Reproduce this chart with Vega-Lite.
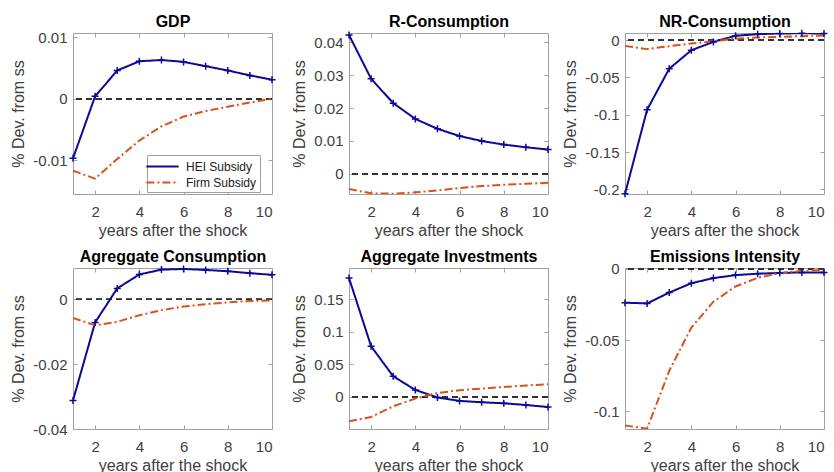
{
  "$schema": "https://vega.github.io/schema/vega-lite/v6.json",
  "padding": {"left": 10, "top": 13, "right": 5, "bottom": 0},
  "background": "white",
  "datasets": {
    "d": [
      {"p": "GDP", "s": "HEI Subsidy", "x": 1, "y": -0.0097},
      {"p": "GDP", "s": "HEI Subsidy", "x": 2, "y": 0.0004},
      {"p": "GDP", "s": "HEI Subsidy", "x": 3, "y": 0.0046},
      {"p": "GDP", "s": "HEI Subsidy", "x": 4, "y": 0.0061},
      {"p": "GDP", "s": "HEI Subsidy", "x": 5, "y": 0.0063},
      {"p": "GDP", "s": "HEI Subsidy", "x": 6, "y": 0.0060},
      {"p": "GDP", "s": "HEI Subsidy", "x": 7, "y": 0.0053},
      {"p": "GDP", "s": "HEI Subsidy", "x": 8, "y": 0.0046},
      {"p": "GDP", "s": "HEI Subsidy", "x": 9, "y": 0.0038},
      {"p": "GDP", "s": "HEI Subsidy", "x": 10, "y": 0.0031},
      {"p": "GDP", "s": "Firm Subsidy", "x": 1, "y": -0.0117},
      {"p": "GDP", "s": "Firm Subsidy", "x": 2, "y": -0.0130},
      {"p": "GDP", "s": "Firm Subsidy", "x": 3, "y": -0.0098},
      {"p": "GDP", "s": "Firm Subsidy", "x": 4, "y": -0.0068},
      {"p": "GDP", "s": "Firm Subsidy", "x": 5, "y": -0.0045},
      {"p": "GDP", "s": "Firm Subsidy", "x": 6, "y": -0.0029},
      {"p": "GDP", "s": "Firm Subsidy", "x": 7, "y": -0.0020},
      {"p": "GDP", "s": "Firm Subsidy", "x": 8, "y": -0.0013},
      {"p": "GDP", "s": "Firm Subsidy", "x": 9, "y": -0.0006},
      {"p": "GDP", "s": "Firm Subsidy", "x": 10, "y": 0.0000},

      {"p": "R", "s": "HEI Subsidy", "x": 1, "y": 0.0422},
      {"p": "R", "s": "HEI Subsidy", "x": 2, "y": 0.0289},
      {"p": "R", "s": "HEI Subsidy", "x": 3, "y": 0.0215},
      {"p": "R", "s": "HEI Subsidy", "x": 4, "y": 0.0167},
      {"p": "R", "s": "HEI Subsidy", "x": 5, "y": 0.0137},
      {"p": "R", "s": "HEI Subsidy", "x": 6, "y": 0.0115},
      {"p": "R", "s": "HEI Subsidy", "x": 7, "y": 0.0100},
      {"p": "R", "s": "HEI Subsidy", "x": 8, "y": 0.0089},
      {"p": "R", "s": "HEI Subsidy", "x": 9, "y": 0.0081},
      {"p": "R", "s": "HEI Subsidy", "x": 10, "y": 0.0074},
      {"p": "R", "s": "Firm Subsidy", "x": 1, "y": -0.0046},
      {"p": "R", "s": "Firm Subsidy", "x": 2, "y": -0.0059},
      {"p": "R", "s": "Firm Subsidy", "x": 3, "y": -0.0060},
      {"p": "R", "s": "Firm Subsidy", "x": 4, "y": -0.0056},
      {"p": "R", "s": "Firm Subsidy", "x": 5, "y": -0.0050},
      {"p": "R", "s": "Firm Subsidy", "x": 6, "y": -0.0043},
      {"p": "R", "s": "Firm Subsidy", "x": 7, "y": -0.0037},
      {"p": "R", "s": "Firm Subsidy", "x": 8, "y": -0.0033},
      {"p": "R", "s": "Firm Subsidy", "x": 9, "y": -0.0030},
      {"p": "R", "s": "Firm Subsidy", "x": 10, "y": -0.0027},

      {"p": "NR", "s": "HEI Subsidy", "x": 1, "y": -0.2060},
      {"p": "NR", "s": "HEI Subsidy", "x": 2, "y": -0.0932},
      {"p": "NR", "s": "HEI Subsidy", "x": 3, "y": -0.0383},
      {"p": "NR", "s": "HEI Subsidy", "x": 4, "y": -0.0135},
      {"p": "NR", "s": "HEI Subsidy", "x": 5, "y": -0.0023},
      {"p": "NR", "s": "HEI Subsidy", "x": 6, "y": 0.0059},
      {"p": "NR", "s": "HEI Subsidy", "x": 7, "y": 0.0080},
      {"p": "NR", "s": "HEI Subsidy", "x": 8, "y": 0.0090},
      {"p": "NR", "s": "HEI Subsidy", "x": 9, "y": 0.0092},
      {"p": "NR", "s": "HEI Subsidy", "x": 10, "y": 0.0090},
      {"p": "NR", "s": "Firm Subsidy", "x": 1, "y": -0.0077},
      {"p": "NR", "s": "Firm Subsidy", "x": 2, "y": -0.0120},
      {"p": "NR", "s": "Firm Subsidy", "x": 3, "y": -0.0081},
      {"p": "NR", "s": "Firm Subsidy", "x": 4, "y": -0.0045},
      {"p": "NR", "s": "Firm Subsidy", "x": 5, "y": -0.0014},
      {"p": "NR", "s": "Firm Subsidy", "x": 6, "y": 0.0018},
      {"p": "NR", "s": "Firm Subsidy", "x": 7, "y": 0.0036},
      {"p": "NR", "s": "Firm Subsidy", "x": 8, "y": 0.0045},
      {"p": "NR", "s": "Firm Subsidy", "x": 9, "y": 0.0054},
      {"p": "NR", "s": "Firm Subsidy", "x": 10, "y": 0.0063},

      {"p": "AC", "s": "HEI Subsidy", "x": 1, "y": -0.0312},
      {"p": "AC", "s": "HEI Subsidy", "x": 2, "y": -0.0071},
      {"p": "AC", "s": "HEI Subsidy", "x": 3, "y": 0.0034},
      {"p": "AC", "s": "HEI Subsidy", "x": 4, "y": 0.0077},
      {"p": "AC", "s": "HEI Subsidy", "x": 5, "y": 0.0092},
      {"p": "AC", "s": "HEI Subsidy", "x": 6, "y": 0.0094},
      {"p": "AC", "s": "HEI Subsidy", "x": 7, "y": 0.0091},
      {"p": "AC", "s": "HEI Subsidy", "x": 8, "y": 0.0087},
      {"p": "AC", "s": "HEI Subsidy", "x": 9, "y": 0.0081},
      {"p": "AC", "s": "HEI Subsidy", "x": 10, "y": 0.0076},
      {"p": "AC", "s": "Firm Subsidy", "x": 1, "y": -0.0057},
      {"p": "AC", "s": "Firm Subsidy", "x": 2, "y": -0.0080},
      {"p": "AC", "s": "Firm Subsidy", "x": 3, "y": -0.0069},
      {"p": "AC", "s": "Firm Subsidy", "x": 4, "y": -0.0049},
      {"p": "AC", "s": "Firm Subsidy", "x": 5, "y": -0.0033},
      {"p": "AC", "s": "Firm Subsidy", "x": 6, "y": -0.0022},
      {"p": "AC", "s": "Firm Subsidy", "x": 7, "y": -0.0015},
      {"p": "AC", "s": "Firm Subsidy", "x": 8, "y": -0.0009},
      {"p": "AC", "s": "Firm Subsidy", "x": 9, "y": -0.0005},
      {"p": "AC", "s": "Firm Subsidy", "x": 10, "y": -0.0003},

      {"p": "AI", "s": "HEI Subsidy", "x": 1, "y": 0.1826},
      {"p": "AI", "s": "HEI Subsidy", "x": 2, "y": 0.0777},
      {"p": "AI", "s": "HEI Subsidy", "x": 3, "y": 0.0315},
      {"p": "AI", "s": "HEI Subsidy", "x": 4, "y": 0.0105},
      {"p": "AI", "s": "HEI Subsidy", "x": 5, "y": -0.0010},
      {"p": "AI", "s": "HEI Subsidy", "x": 6, "y": -0.0063},
      {"p": "AI", "s": "HEI Subsidy", "x": 7, "y": -0.0084},
      {"p": "AI", "s": "HEI Subsidy", "x": 8, "y": -0.0100},
      {"p": "AI", "s": "HEI Subsidy", "x": 9, "y": -0.0126},
      {"p": "AI", "s": "HEI Subsidy", "x": 10, "y": -0.0157},
      {"p": "AI", "s": "Firm Subsidy", "x": 1, "y": -0.0378},
      {"p": "AI", "s": "Firm Subsidy", "x": 2, "y": -0.0310},
      {"p": "AI", "s": "Firm Subsidy", "x": 3, "y": -0.0147},
      {"p": "AI", "s": "Firm Subsidy", "x": 4, "y": -0.0026},
      {"p": "AI", "s": "Firm Subsidy", "x": 5, "y": 0.0058},
      {"p": "AI", "s": "Firm Subsidy", "x": 6, "y": 0.0100},
      {"p": "AI", "s": "Firm Subsidy", "x": 7, "y": 0.0126},
      {"p": "AI", "s": "Firm Subsidy", "x": 8, "y": 0.0152},
      {"p": "AI", "s": "Firm Subsidy", "x": 9, "y": 0.0173},
      {"p": "AI", "s": "Firm Subsidy", "x": 10, "y": 0.0194},

      {"p": "EI", "s": "HEI Subsidy", "x": 1, "y": -0.0237},
      {"p": "EI", "s": "HEI Subsidy", "x": 2, "y": -0.0242},
      {"p": "EI", "s": "HEI Subsidy", "x": 3, "y": -0.0166},
      {"p": "EI", "s": "HEI Subsidy", "x": 4, "y": -0.0100},
      {"p": "EI", "s": "HEI Subsidy", "x": 5, "y": -0.0064},
      {"p": "EI", "s": "HEI Subsidy", "x": 6, "y": -0.0043},
      {"p": "EI", "s": "HEI Subsidy", "x": 7, "y": -0.0033},
      {"p": "EI", "s": "HEI Subsidy", "x": 8, "y": -0.0028},
      {"p": "EI", "s": "HEI Subsidy", "x": 9, "y": -0.0024},
      {"p": "EI", "s": "HEI Subsidy", "x": 10, "y": -0.0024},
      {"p": "EI", "s": "Firm Subsidy", "x": 1, "y": -0.1100},
      {"p": "EI", "s": "Firm Subsidy", "x": 2, "y": -0.1123},
      {"p": "EI", "s": "Firm Subsidy", "x": 3, "y": -0.0716},
      {"p": "EI", "s": "Firm Subsidy", "x": 4, "y": -0.0412},
      {"p": "EI", "s": "Firm Subsidy", "x": 5, "y": -0.0230},
      {"p": "EI", "s": "Firm Subsidy", "x": 6, "y": -0.0123},
      {"p": "EI", "s": "Firm Subsidy", "x": 7, "y": -0.0062},
      {"p": "EI", "s": "Firm Subsidy", "x": 8, "y": -0.0028},
      {"p": "EI", "s": "Firm Subsidy", "x": 9, "y": -0.0014},
      {"p": "EI", "s": "Firm Subsidy", "x": 10, "y": -0.0007}
    ]
  },
  "columns": 3,
  "spacing": {"row": 74, "column": 77},
  "bounds": "flush",
  "resolve": {
    "scale": {"color": "independent", "strokeDash": "independent"},
    "legend": {"color": "independent", "strokeDash": "independent"}
  },
  "concat": [
    {
      "width": 199, "height": 161,
      "data": {"name": "d"}, "transform": [{"filter": "datum.p === 'GDP'"}],
      "resolve": {"axis": {"x": "independent", "y": "independent"}},
      "layer": [
        {"mark": {"type": "rule", "color": "#333333", "strokeDash": [6, 4], "strokeWidth": 1}, "encoding": {"y": {"datum": 0, "type": "quantitative", "axis": null}}},
        {"mark": {"type": "line", "strokeWidth": 2, "clip": true},
         "encoding": {
           "x": {"field": "x", "type": "quantitative", "scale": {"domain": [1, 10], "nice": false, "zero": false}, "axis": {"values": [2, 4, 6, 8, 10], "title": "years after the shock"}},
           "y": {"field": "y", "type": "quantitative", "scale": {"domain": [-0.0155, 0.0107], "nice": false, "zero": false}, "axis": {"values": [-0.01, 0, 0.01], "title": "% Dev. from ss", "labelExpr": "'' + datum.value"}},
           "color": {"field": "s", "type": "nominal", "scale": {"domain": ["HEI Subsidy", "Firm Subsidy"], "range": ["#0a0a96", "#d95319"]},
             "legend": {"orient": "none", "legendX": 74, "legendY": 122, "title": null, "symbolType": "M-2.15,0H2.15", "symbolSize": 225, "symbolOffset": 4, "symbolStrokeWidth": 2, "labelFontSize": 12, "labelColor": "#222222", "strokeColor": "#a0a0a0", "fillColor": "white", "padding": 3, "rowPadding": 1, "labelOffset": 15}},
           "strokeDash": {"field": "s", "type": "nominal", "scale": {"domain": ["HEI Subsidy", "Firm Subsidy"], "range": [[1, 0], [8, 3, 2, 3]]},
             "legend": {"orient": "none", "legendX": 74, "legendY": 122, "title": null, "symbolType": "M-2.15,0H2.15", "symbolSize": 225, "symbolOffset": 4, "symbolStrokeWidth": 2, "labelFontSize": 12, "labelColor": "#222222", "strokeColor": "#a0a0a0", "fillColor": "white", "padding": 3, "rowPadding": 1, "labelOffset": 15}}
         }},
        {"transform": [{"filter": "datum.s === 'HEI Subsidy'"}],
         "mark": {"type": "point", "shape": "M-1,0H1M0,-1V1", "size": 49, "filled": false, "strokeWidth": 1.5, "color": "#0a0a96", "opacity": 1},
         "encoding": {
           "x": {"field": "x", "type": "quantitative", "axis": {"orient": "top", "values": [2, 4, 6, 8, 10], "labels": false, "title": "GDP", "titleFontWeight": "bold", "titleFontSize": 16, "titleColor": "#000000", "titlePadding": 3}},
           "y": {"field": "y", "type": "quantitative", "axis": {"orient": "right", "values": [-0.01, 0, 0.01], "labels": false, "title": null}}}}
      ]
    },
    {
      "width": 199, "height": 161,
      "data": {"name": "d"}, "transform": [{"filter": "datum.p === 'R'"}],
      "resolve": {"axis": {"x": "independent", "y": "independent"}},
      "layer": [
        {"mark": {"type": "rule", "color": "#333333", "strokeDash": [6, 4], "strokeWidth": 1}, "encoding": {"y": {"datum": 0, "type": "quantitative", "axis": null}}},
        {"mark": {"type": "line", "strokeWidth": 2, "clip": true},
         "encoding": {
           "x": {"field": "x", "type": "quantitative", "scale": {"domain": [1, 10], "nice": false, "zero": false}, "axis": {"values": [2, 4, 6, 8, 10], "title": "years after the shock"}},
           "y": {"field": "y", "type": "quantitative", "scale": {"domain": [-0.0061, 0.0428], "nice": false, "zero": false}, "axis": {"values": [0, 0.01, 0.02, 0.03, 0.04], "title": "% Dev. from ss", "labelExpr": "'' + datum.value"}},
           "color": {"field": "s", "type": "nominal", "scale": {"domain": ["HEI Subsidy", "Firm Subsidy"], "range": ["#0a0a96", "#d95319"]}, "legend": null},
           "strokeDash": {"field": "s", "type": "nominal", "scale": {"domain": ["HEI Subsidy", "Firm Subsidy"], "range": [[1, 0], [8, 3, 2, 3]]}, "legend": null}
         }},
        {"transform": [{"filter": "datum.s === 'HEI Subsidy'"}],
         "mark": {"type": "point", "shape": "M-1,0H1M0,-1V1", "size": 49, "filled": false, "strokeWidth": 1.5, "color": "#0a0a96", "opacity": 1},
         "encoding": {
           "x": {"field": "x", "type": "quantitative", "axis": {"orient": "top", "values": [2, 4, 6, 8, 10], "labels": false, "title": "R-Consumption", "titleFontWeight": "bold", "titleFontSize": 16, "titleColor": "#000000", "titlePadding": 3}},
           "y": {"field": "y", "type": "quantitative", "axis": {"orient": "right", "values": [0, 0.01, 0.02, 0.03, 0.04], "labels": false, "title": null}}}}
      ]
    },
    {
      "width": 199, "height": 161,
      "data": {"name": "d"}, "transform": [{"filter": "datum.p === 'NR'"}],
      "resolve": {"axis": {"x": "independent", "y": "independent"}},
      "layer": [
        {"mark": {"type": "rule", "color": "#333333", "strokeDash": [6, 4], "strokeWidth": 1}, "encoding": {"y": {"datum": 0, "type": "quantitative", "axis": null}}},
        {"mark": {"type": "line", "strokeWidth": 2, "clip": true},
         "encoding": {
           "x": {"field": "x", "type": "quantitative", "scale": {"domain": [1, 10], "nice": false, "zero": false}, "axis": {"values": [2, 4, 6, 8, 10], "title": "years after the shock"}},
           "y": {"field": "y", "type": "quantitative", "scale": {"domain": [-0.2062, 0.0096], "nice": false, "zero": false}, "axis": {"values": [-0.2, -0.15, -0.1, -0.05, 0], "title": "% Dev. from ss", "labelExpr": "'' + datum.value"}},
           "color": {"field": "s", "type": "nominal", "scale": {"domain": ["HEI Subsidy", "Firm Subsidy"], "range": ["#0a0a96", "#d95319"]}, "legend": null},
           "strokeDash": {"field": "s", "type": "nominal", "scale": {"domain": ["HEI Subsidy", "Firm Subsidy"], "range": [[1, 0], [8, 3, 2, 3]]}, "legend": null}
         }},
        {"transform": [{"filter": "datum.s === 'HEI Subsidy'"}],
         "mark": {"type": "point", "shape": "M-1,0H1M0,-1V1", "size": 49, "filled": false, "strokeWidth": 1.5, "color": "#0a0a96", "opacity": 1},
         "encoding": {
           "x": {"field": "x", "type": "quantitative", "axis": {"orient": "top", "values": [2, 4, 6, 8, 10], "labels": false, "title": "NR-Consumption", "titleFontWeight": "bold", "titleFontSize": 16, "titleColor": "#000000", "titlePadding": 3}},
           "y": {"field": "y", "type": "quantitative", "axis": {"orient": "right", "values": [-0.2, -0.15, -0.1, -0.05, 0], "labels": false, "title": null}}}}
      ]
    },
    {
      "width": 199, "height": 161,
      "data": {"name": "d"}, "transform": [{"filter": "datum.p === 'AC'"}],
      "resolve": {"axis": {"x": "independent", "y": "independent"}},
      "layer": [
        {"mark": {"type": "rule", "color": "#333333", "strokeDash": [6, 4], "strokeWidth": 1}, "encoding": {"y": {"datum": 0, "type": "quantitative", "axis": null}}},
        {"mark": {"type": "line", "strokeWidth": 2, "clip": true},
         "encoding": {
           "x": {"field": "x", "type": "quantitative", "scale": {"domain": [1, 10], "nice": false, "zero": false}, "axis": {"values": [2, 4, 6, 8, 10], "title": "years after the shock"}},
           "y": {"field": "y", "type": "quantitative", "scale": {"domain": [-0.04, 0.0097], "nice": false, "zero": false}, "axis": {"values": [-0.04, -0.02, 0], "title": "% Dev. from ss", "labelExpr": "'' + datum.value"}},
           "color": {"field": "s", "type": "nominal", "scale": {"domain": ["HEI Subsidy", "Firm Subsidy"], "range": ["#0a0a96", "#d95319"]}, "legend": null},
           "strokeDash": {"field": "s", "type": "nominal", "scale": {"domain": ["HEI Subsidy", "Firm Subsidy"], "range": [[1, 0], [8, 3, 2, 3]]}, "legend": null}
         }},
        {"transform": [{"filter": "datum.s === 'HEI Subsidy'"}],
         "mark": {"type": "point", "shape": "M-1,0H1M0,-1V1", "size": 49, "filled": false, "strokeWidth": 1.5, "color": "#0a0a96", "opacity": 1},
         "encoding": {
           "x": {"field": "x", "type": "quantitative", "axis": {"orient": "top", "values": [2, 4, 6, 8, 10], "labels": false, "title": "Agreggate Consumption", "titleFontWeight": "bold", "titleFontSize": 16, "titleColor": "#000000", "titlePadding": 3, "titleLimit": 400}},
           "y": {"field": "y", "type": "quantitative", "axis": {"orient": "right", "values": [-0.04, -0.02, 0], "labels": false, "title": null}}}}
      ]
    },
    {
      "width": 199, "height": 161,
      "data": {"name": "d"}, "transform": [{"filter": "datum.p === 'AI'"}],
      "resolve": {"axis": {"x": "independent", "y": "independent"}},
      "layer": [
        {"mark": {"type": "rule", "color": "#333333", "strokeDash": [6, 4], "strokeWidth": 1}, "encoding": {"y": {"datum": 0, "type": "quantitative", "axis": null}}},
        {"mark": {"type": "line", "strokeWidth": 2, "clip": true},
         "encoding": {
           "x": {"field": "x", "type": "quantitative", "scale": {"domain": [1, 10], "nice": false, "zero": false}, "axis": {"values": [2, 4, 6, 8, 10], "title": "years after the shock"}},
           "y": {"field": "y", "type": "quantitative", "scale": {"domain": [-0.0495, 0.198], "nice": false, "zero": false}, "axis": {"values": [-0.05, 0, 0.05, 0.1, 0.15], "title": "% Dev. from ss", "labelExpr": "'' + datum.value"}},
           "color": {"field": "s", "type": "nominal", "scale": {"domain": ["HEI Subsidy", "Firm Subsidy"], "range": ["#0a0a96", "#d95319"]}, "legend": null},
           "strokeDash": {"field": "s", "type": "nominal", "scale": {"domain": ["HEI Subsidy", "Firm Subsidy"], "range": [[1, 0], [8, 3, 2, 3]]}, "legend": null}
         }},
        {"transform": [{"filter": "datum.s === 'HEI Subsidy'"}],
         "mark": {"type": "point", "shape": "M-1,0H1M0,-1V1", "size": 49, "filled": false, "strokeWidth": 1.5, "color": "#0a0a96", "opacity": 1},
         "encoding": {
           "x": {"field": "x", "type": "quantitative", "axis": {"orient": "top", "values": [2, 4, 6, 8, 10], "labels": false, "title": "Aggregate Investments", "titleFontWeight": "bold", "titleFontSize": 16, "titleColor": "#000000", "titlePadding": 3, "titleLimit": 400}},
           "y": {"field": "y", "type": "quantitative", "axis": {"orient": "right", "values": [-0.05, 0, 0.05, 0.1, 0.15], "labels": false, "title": null}}}}
      ]
    },
    {
      "width": 199, "height": 161,
      "data": {"name": "d"}, "transform": [{"filter": "datum.p === 'EI'"}],
      "resolve": {"axis": {"x": "independent", "y": "independent"}},
      "layer": [
        {"mark": {"type": "rule", "color": "#333333", "strokeDash": [6, 4], "strokeWidth": 1}, "encoding": {"y": {"datum": 0, "type": "quantitative", "axis": null}}},
        {"mark": {"type": "line", "strokeWidth": 2, "clip": true},
         "encoding": {
           "x": {"field": "x", "type": "quantitative", "scale": {"domain": [1, 10], "nice": false, "zero": false}, "axis": {"values": [2, 4, 6, 8, 10], "title": "years after the shock"}},
           "y": {"field": "y", "type": "quantitative", "scale": {"domain": [-0.1125, 0.0007], "nice": false, "zero": false}, "axis": {"values": [-0.1, -0.05, 0], "title": "% Dev. from ss", "labelExpr": "'' + datum.value"}},
           "color": {"field": "s", "type": "nominal", "scale": {"domain": ["HEI Subsidy", "Firm Subsidy"], "range": ["#0a0a96", "#d95319"]}, "legend": null},
           "strokeDash": {"field": "s", "type": "nominal", "scale": {"domain": ["HEI Subsidy", "Firm Subsidy"], "range": [[1, 0], [8, 3, 2, 3]]}, "legend": null}
         }},
        {"transform": [{"filter": "datum.s === 'HEI Subsidy'"}],
         "mark": {"type": "point", "shape": "M-1,0H1M0,-1V1", "size": 49, "filled": false, "strokeWidth": 1.5, "color": "#0a0a96", "opacity": 1},
         "encoding": {
           "x": {"field": "x", "type": "quantitative", "axis": {"orient": "top", "values": [2, 4, 6, 8, 10], "labels": false, "title": "Emissions Intensity", "titleFontWeight": "bold", "titleFontSize": 16, "titleColor": "#000000", "titlePadding": 3, "titleLimit": 400}},
           "y": {"field": "y", "type": "quantitative", "axis": {"orient": "right", "values": [-0.1, -0.05, 0], "labels": false, "title": null}}}}
      ]
    }
  ],
  "config": {
    "font": "Liberation Sans",
    "view": {"stroke": "#a0a0a0", "strokeWidth": 1},
    "axis": {"grid": false, "domain": false, "ticks": true, "tickSize": -4, "tickColor": "#a0a0a0", "labelFontSize": 15, "labelColor": "#404040", "titleFontSize": 16, "titleColor": "#404040", "titleFontWeight": "normal"},
    "axisX": {"labelPadding": 14, "titlePadding": 3},
    "axisY": {"labelPadding": 10, "titlePadding": 6},
    "legend": {"labelFont": "Liberation Sans"}
  }
}
